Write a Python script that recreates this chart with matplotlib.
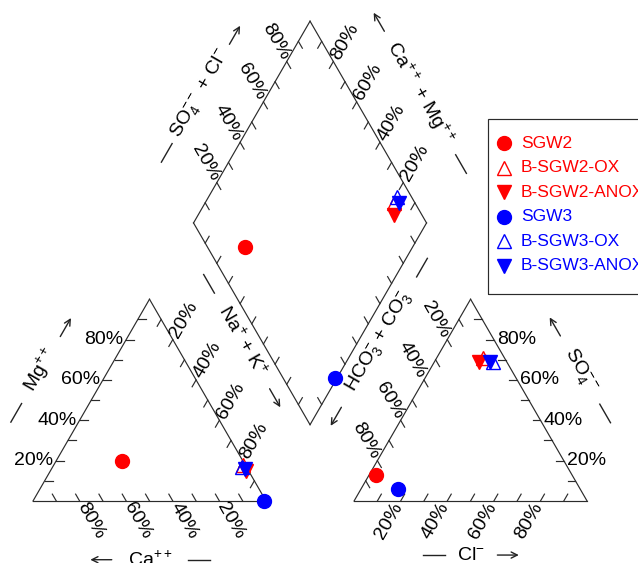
import numpy as np
import matplotlib
matplotlib.use('Agg')
import matplotlib.pyplot as plt
from matplotlib.patches import Rectangle

plt.rcParams['font.family'] = ['Liberation Sans', 'DejaVu Sans']
plt.rcParams['mathtext.fontset'] = 'custom'
plt.rcParams['mathtext.rm'] = 'Liberation Sans'
plt.rcParams['mathtext.it'] = 'Liberation Sans:italic'
plt.rcParams['mathtext.bf'] = 'Liberation Sans:bold'

# sample composition, percent of total milliequivalents
samples = ['SGW2', 'B-SGW2-OX', 'B-SGW2-ANOX', 'SGW3', 'B-SGW3-OX', 'B-SGW3-ANOX']
ca = [52, 1, 1, 1, 2, 1]
mg = [20, 18, 15, 0, 17, 16]
na_k = [28, 81, 84, 99, 81, 83]
hco3 = [84, 9, 12, 78, 6, 7]
cl = [3, 20, 19, 16, 25, 24]
so4 = [13, 71, 69, 6, 69, 69]

colors = ['red', 'red', 'red', 'blue', 'blue', 'blue']
markers = ['o', '^', 'v', 'o', '^', 'v']
filled = [True, False, True, True, False, True]

tick_pct = [10, 20, 30, 40, 50, 60, 70, 80, 90]
label_pct = [20, 40, 60, 80]

H = np.sqrt(3) / 2
GAP = 0.378
X_AN = 1 + GAP
B0 = np.array([1 + GAP / 2, GAP * H])   # bottom corner of the diamond
UL = np.array([-0.5, H])
UR = np.array([0.5, H])
TICK = 0.034
PAD = 0.014
INK = '#2b2b2b'
LINE = dict(color=INK, lw=0.85)
FS = 14


def cation_xy(c, m, n):
    t = c + m + n
    return n / t + 0.5 * m / t, H * m / t


def anion_xy(h, c, s):
    t = h + c + s
    return X_AN + c / t + 0.5 * s / t, H * s / t


def diamond_xy(c, m, n, h, cl_, s):
    b = (c + m) / (c + m + n)
    a = (s + cl_) / (h + cl_ + s)
    p = B0 + b * UL + a * UR
    return p[0], p[1]


def edge(ax, p0, p1, tdir, labels=True):
    p0, p1, tdir = np.asarray(p0), np.asarray(p1), np.asarray(tdir)
    ax.plot([p0[0], p1[0]], [p0[1], p1[1]], **LINE)
    out = -tdir
    ang = np.degrees(np.arctan2(out[1], out[0]))
    ha = 'left'
    if ang > 90:
        ang -= 180
        ha = 'right'
    elif ang < -90:
        ang += 180
        ha = 'right'
    for pct in tick_pct:
        p = p0 + (p1 - p0) * pct / 100
        q = p + tdir * TICK
        ax.plot([p[0], q[0]], [p[1], q[1]], **LINE)
        if labels and pct in label_pct:
            lp = p + out * PAD
            ax.text(lp[0], lp[1], f'{pct}%', rotation=ang, ha=ha, va='center',
                    rotation_mode='anchor', fontsize=FS)


def axis_title(ax, xy, rot, text, d, arrow_end):
    """Title with a dash on one side and an arrow on the other."""
    c = np.asarray(xy)
    e = np.array([np.cos(np.radians(rot)), np.sin(np.radians(rot))])
    half = 0.046
    ax.text(c[0], c[1], text, rotation=rot, ha='center', va='center',
            rotation_mode='anchor', fontsize=FS)
    if arrow_end:
        dash_c, arr_c, sgn = c - d * e, c + d * e, 1
    else:
        dash_c, arr_c, sgn = c + d * e, c - d * e, -1
    ax.plot([dash_c[0] - half * e[0], dash_c[0] + half * e[0]],
            [dash_c[1] - half * e[1], dash_c[1] + half * e[1]], color='#222222', lw=1.0)
    ax.annotate('', xy=arr_c + sgn * half * e, xytext=arr_c - sgn * half * e,
                arrowprops=dict(arrowstyle='->', color='#222222', lw=1.0,
                                shrinkA=0, shrinkB=0, mutation_scale=11))


fig = plt.figure(figsize=(6.38, 5.63), dpi=100)
ax = fig.add_axes([0, 0, 1, 1])
ax.set_xlim(-33 / 233, 605 / 233)
ax.set_ylim(-62 / 233, 501 / 233)
ax.axis('off')

# cation triangle: Ca left, Na+K right, Mg top
c_ca, c_na, c_mg = np.array([0, 0]), np.array([1, 0]), np.array([0.5, H])
edge(ax, c_na, c_ca, c_mg - c_na)      # Ca along the base
edge(ax, c_ca, c_mg, c_na - c_ca)      # Mg along the left side
edge(ax, c_mg, c_na, c_ca - c_mg)      # Na+K along the right side

# anion triangle: HCO3 left, Cl right, SO4 top
a_hc, a_cl, a_so = np.array([X_AN, 0]), np.array([X_AN + 1, 0]), np.array([X_AN + 0.5, H])
edge(ax, a_hc, a_cl, a_so - a_hc)      # Cl along the base
edge(ax, a_cl, a_so, a_hc - a_cl)      # SO4 along the right side
edge(ax, a_so, a_hc, a_cl - a_so)      # HCO3 along the left side

# diamond
d_b, d_l, d_r, d_t = B0, B0 + UL, B0 + UR, B0 + UL + UR
edge(ax, d_l, d_t, -UL)                # SO4+Cl
edge(ax, d_r, d_t, -UR)                # Ca+Mg
edge(ax, d_b, d_l, UR, labels=False)
edge(ax, d_b, d_r, UL, labels=False)

# axis titles
axis_title(ax, (0.034, 0.562), 60, r'Mg$^{++}$', 0.212, True)
axis_title(ax, (0.502, -0.252), 0, r'Ca$^{++}$', 0.210, False)
axis_title(ax, (0.897, 0.687), -60, r'Na$^{+}$ + K$^{+}$', 0.283, True)
axis_title(ax, (1.485, 0.682), 60, r'HCO$_3^{-}$ + CO$_3^{-}$', 0.369, False)
axis_title(ax, (1.880, -0.232), 0, r'Cl$^{-}$', 0.159, True)
axis_title(ax, (2.348, 0.562), -60, r'SO$_4^{--}$', 0.215, False)
axis_title(ax, (0.720, 1.747), 60, r'SO$_4^{--}$ + Cl$^{-}$', 0.292, True)
axis_title(ax, (1.661, 1.751), -60, r'Ca$^{++}$ + Mg$^{++}$', 0.352, False)

# samples in all three fields
for i, name in enumerate(samples):
    pts = [cation_xy(ca[i], mg[i], na_k[i]),
           anion_xy(hco3[i], cl[i], so4[i]),
           diamond_xy(ca[i], mg[i], na_k[i], hco3[i], cl[i], so4[i])]
    face = colors[i] if filled[i] else 'none'
    for x, y in pts:
        ax.plot(x, y, marker=markers[i], ms=10, mfc=face, mec=colors[i],
                mew=1.0, ls='none', zorder=5)

# legend box, laid out in pixels from the top-left corner
px = lambda x, y: (x / 638, 1 - y / 563)
fig.patches.append(Rectangle(px(488, 294), 170 / 638, 175 / 563,
                             transform=fig.transFigure, fill=False,
                             edgecolor=INK, lw=0.85))
for i, name in enumerate(samples):
    ry = 143 + i * 24.6
    face = colors[i] if filled[i] else 'none'
    fig.lines.append(plt.Line2D([px(504, ry)[0]], [px(504, ry)[1]],
                                transform=fig.transFigure, marker=markers[i],
                                ms=10, mfc=face, mec=colors[i], mew=1.0, ls='none'))
    fig.text(*px(521, ry), name, color=colors[i], fontsize=12.5, va='center')

fig.savefig('out.png', dpi=100)
